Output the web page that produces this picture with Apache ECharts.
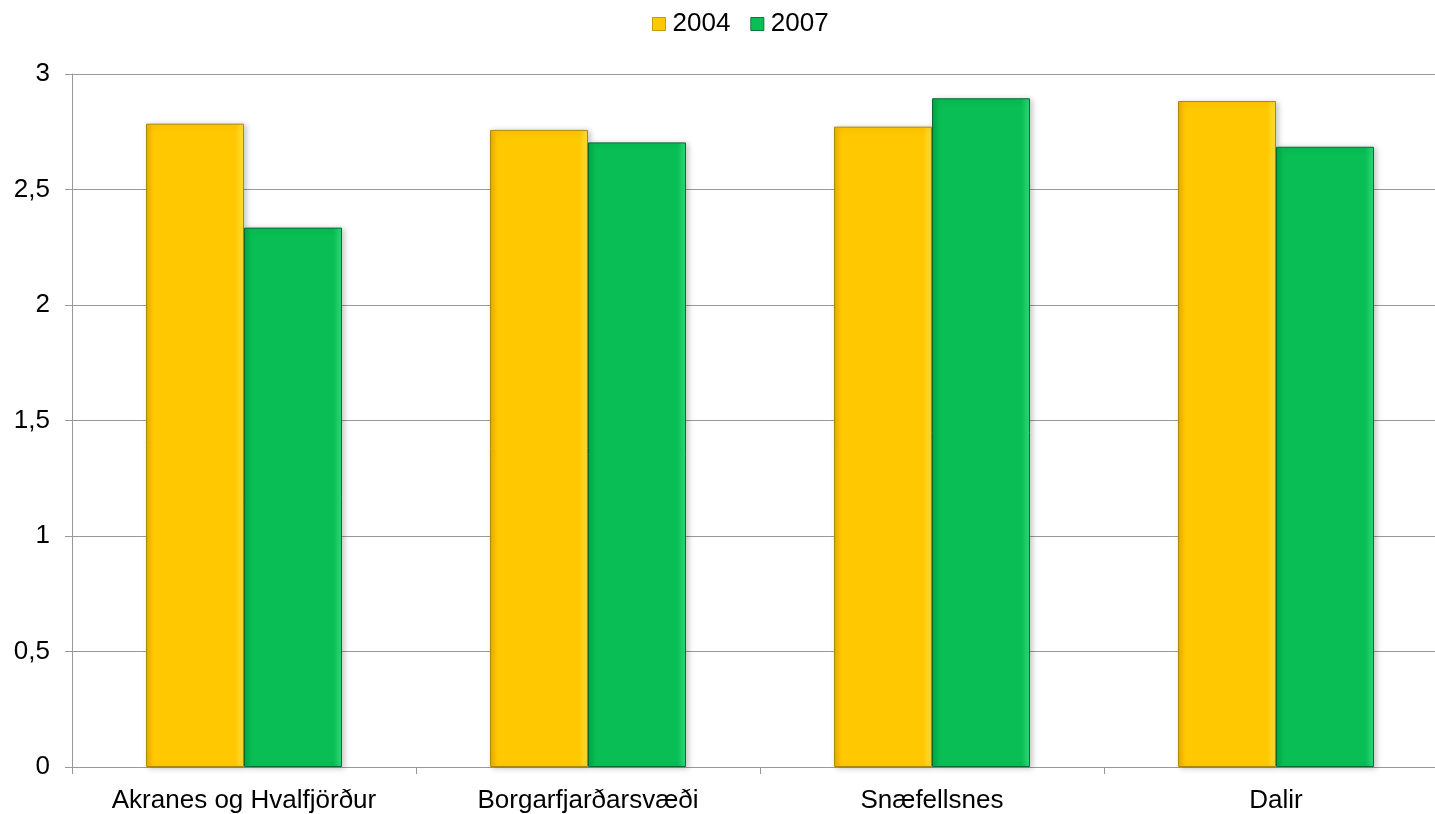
<!DOCTYPE html>
<html><head><meta charset="utf-8">
<script src="https://cdn.jsdelivr.net/npm/echarts@6/dist/echarts.min.js"></script>
<style>html,body{margin:0;padding:0;background:#fff;overflow:hidden;width:1435px;height:814px}#c{width:1448px;height:814px}</style>
</head><body><div id="c"></div>
<script>
const categories = ['Akranes og Hvalfjörður', 'Borgarfjarðarsvæði', 'Snæfellsnes', 'Dalir'];
const seriesNames = ['2004', '2007'];
const values2004 = [2.785, 2.758, 2.772, 2.883];
const values2007 = [2.335, 2.704, 2.895, 2.685];
const yTicks = [0, 0.5, 1, 1.5, 2, 2.5, 3];

function barStyle(light, mid, dark, border) {
  return {
    color: new echarts.graphic.LinearGradient(0, 0, 1, 0, [
      {offset: 0, color: dark},
      {offset: 0.07, color: mid},
      {offset: 0.91, color: mid},
      {offset: 1, color: light}
    ]),
    borderColor: border,
    borderWidth: 1,
    shadowColor: 'rgba(0,0,0,0.22)',
    shadowBlur: 6,
    shadowOffsetX: 2,
    shadowOffsetY: 1
  };
}

const chart = echarts.init(document.getElementById('c'));
chart.setOption({
  animation: false,
  textStyle: {fontFamily: 'Liberation Sans, Arial, sans-serif'},
  legend: {
    top: 6, left: 647,
    icon: 'rect',
    itemWidth: 13, itemHeight: 13, itemGap: 20,
    textStyle: {fontSize: 26, color: '#000', padding: [0, 0, 0, 2]},
    data: [
      {name: seriesNames[0], itemStyle: {color: '#FFC800', borderColor: '#C89B00', borderWidth: 1}},
      {name: seriesNames[1], itemStyle: {color: '#08BE55', borderColor: '#067A36', borderWidth: 1}}
    ]
  },
  grid: {left: 72, right: 0, top: 74, bottom: 47, containLabel: false},
  xAxis: {
    type: 'category', data: categories,
    axisLine: {lineStyle: {color: '#999999', width: 1}},
    axisTick: {show: true, interval: 0, length: 7, lineStyle: {color: '#999999'}},
    axisLabel: {fontSize: 26, color: '#000', margin: 21, interval: 0, hideOverlap: false}
  },
  yAxis: {
    type: 'value', min: 0, max: 3, interval: 0.5,
    axisLine: {show: true, lineStyle: {color: '#999999', width: 1}},
    axisTick: {show: true, length: 7, lineStyle: {color: '#999999'}},
    splitLine: {lineStyle: {color: '#999999', width: 1}},
    axisLabel: {fontSize: 26, color: '#000', margin: 22,
      formatter: v => yTicks.includes(v) ? String(v).replace('.', ',') : ''}
  },
  series: [
    {name: seriesNames[0], type: 'bar', data: values2004, barWidth: 98, barGap: '0%',
     itemStyle: barStyle('#FFE23A', '#FFC800', '#E8AE00', '#B08800')},
    {name: seriesNames[1], type: 'bar', data: values2007, barWidth: 98,
     itemStyle: barStyle('#2EDB7A', '#08BE55', '#03A444', '#056B30')}
  ]
});
</script></body></html>
